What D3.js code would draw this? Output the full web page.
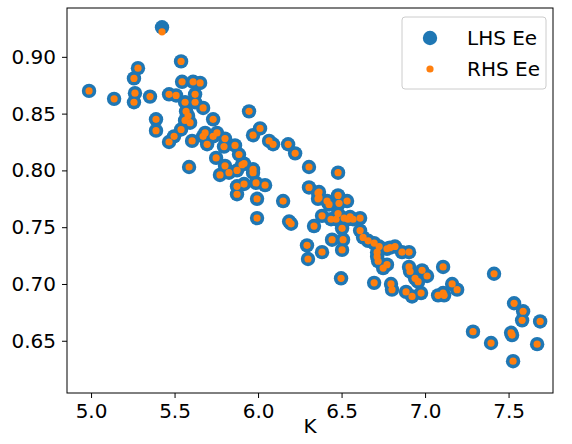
<!DOCTYPE html><html><head><meta charset="utf-8"><script src="https://cdn.jsdelivr.net/npm/d3@7"></script>
<style>body{margin:0;background:#fff}text{font-family:"DejaVu Sans",sans-serif}</style></head><body><svg id="c" width="572" height="444"></svg><script>
const K=[4.988,5.138,5.281,5.257,5.263,5.257,5.353,5.389,5.389,5.425,5.539,5.545,5.611,5.653,5.467,5.509,5.563,5.623,5.623,5.671,5.569,5.581,5.563,5.593,5.539,5.497,5.467,5.605,5.731,5.683,5.671,5.695,5.731,5.754,5.802,5.796,5.862,5.587,5.946,5.970,6.012,6.066,6.090,6.180,6.222,5.749,5.802,5.772,5.826,5.874,5.886,5.904,5.916,5.970,5.970,6.305,5.874,5.916,5.988,6.042,5.874,5.994,6.150,6.305,6.359,6.359,5.994,6.186,6.479,6.365,6.365,6.413,6.425,6.479,6.485,6.533,6.383,6.437,6.467,6.479,6.515,6.539,6.551,6.569,6.611,6.503,6.611,6.198,6.335,6.629,6.659,6.695,6.725,6.772,6.790,6.820,6.862,6.904,6.713,6.713,6.719,6.772,6.749,6.443,6.509,6.503,6.293,6.299,6.383,6.497,6.904,6.910,6.940,6.982,7.012,6.958,7.108,6.695,6.796,6.802,6.886,6.922,6.976,7.078,7.108,7.114,7.162,7.192,7.413,7.533,7.587,7.581,7.689,7.287,7.395,7.515,7.521,7.671,7.527];
const lhsEe=[0.870,0.863,0.890,0.881,0.868,0.860,0.865,0.845,0.835,0.926,0.896,0.878,0.878,0.877,0.867,0.866,0.860,0.867,0.860,0.855,0.852,0.848,0.844,0.842,0.836,0.830,0.825,0.826,0.845,0.833,0.830,0.823,0.830,0.833,0.828,0.821,0.822,0.803,0.852,0.831,0.837,0.826,0.823,0.823,0.815,0.811,0.804,0.796,0.798,0.800,0.814,0.805,0.806,0.801,0.798,0.803,0.786,0.788,0.789,0.787,0.779,0.775,0.773,0.785,0.780,0.775,0.758,0.755,0.798,0.781,0.776,0.773,0.770,0.778,0.771,0.773,0.760,0.757,0.757,0.762,0.758,0.757,0.759,0.757,0.758,0.749,0.747,0.753,0.751,0.741,0.738,0.736,0.733,0.731,0.732,0.733,0.728,0.728,0.728,0.724,0.720,0.717,0.714,0.739,0.739,0.730,0.734,0.722,0.728,0.705,0.715,0.711,0.705,0.712,0.707,0.702,0.715,0.701,0.700,0.695,0.693,0.689,0.692,0.690,0.692,0.690,0.700,0.695,0.709,0.683,0.676,0.668,0.667,0.658,0.648,0.657,0.655,0.647,0.632];
const rhsEe=lhsEe.map((v,i)=>i===9?0.922:v);
const xTicks=[5.0,5.5,6.0,6.5,7.0,7.5];
const yTicks=[0.65,0.70,0.75,0.80,0.85,0.90];
const svg=d3.select("#c");
const L=67,R=553,T=8,B=393;
const x=d3.scaleLinear().domain([4.856,7.766]).range([L,R]);
const y=d3.scaleLinear().domain([0.604,0.943]).range([B,T]);
const g=svg.append("g");
g.selectAll("circle.l").data(K).enter().append("circle").attr("cx",d=>x(d)).attr("cy",(d,i)=>y(lhsEe[i])).attr("r",7.2).attr("fill","#1f77b4");
g.selectAll("circle.r").data(K).enter().append("circle").attr("cx",d=>x(d)).attr("cy",(d,i)=>y(rhsEe[i])).attr("r",3.6).attr("fill","#ff7f0e");
const xa=svg.append("g").attr("transform",`translate(0,${B})`).call(d3.axisBottom(x).tickValues(xTicks).tickFormat(d3.format(".1f")).tickSize(5).tickSizeOuter(0).tickPadding(6));
const ya=svg.append("g").attr("transform",`translate(${L},0)`).call(d3.axisLeft(y).tickValues(yTicks).tickFormat(d3.format(".2f")).tickSize(5).tickSizeOuter(0).tickPadding(6));
[xa,ya].forEach(a=>{a.select(".domain").remove();a.selectAll("text").attr("font-size",20).attr("fill","#000").style("font-family","DejaVu Sans");a.selectAll("line").attr("stroke","#000");});
svg.append("rect").attr("x",L).attr("y",T).attr("width",R-L).attr("height",B-T).attr("fill","none").attr("stroke","#000").attr("stroke-width",1);
svg.append("text").attr("x",(L+R)/2).attr("y",433).attr("text-anchor","middle").attr("font-size",20).text("K");
const lg=svg.append("g");
lg.append("rect").attr("x",402).attr("y",17).attr("width",144).attr("height",72).attr("rx",3).attr("fill","#fff").attr("fill-opacity",0.8).attr("stroke","#ccc");
lg.append("circle").attr("cx",430).attr("cy",38).attr("r",7.2).attr("fill","#1f77b4");
lg.append("circle").attr("cx",430).attr("cy",69).attr("r",3.6).attr("fill","#ff7f0e");
lg.append("text").attr("x",467).attr("y",45).attr("font-size",20).text("LHS Ee");
lg.append("text").attr("x",467).attr("y",76).attr("font-size",20).text("RHS Ee");
</script></body></html>
